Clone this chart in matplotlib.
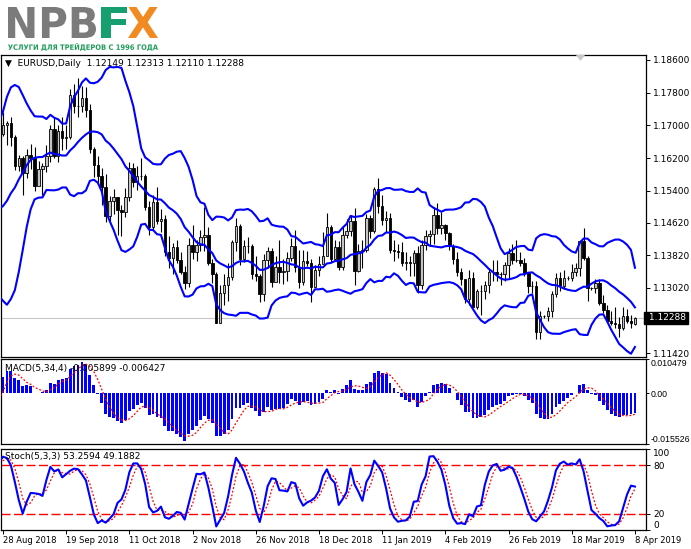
import numpy as np
import pandas as pd
import matplotlib
matplotlib.use("Agg")
import matplotlib.pyplot as plt
import matplotlib.transforms as mtransforms
from matplotlib.textpath import TextPath
from matplotlib.patches import PathPatch, Polygon
from matplotlib.font_manager import FontProperties

# EURUSD daily closes 3 Jul - 10 Aug 2018, only used to warm up the indicators
pre_close = [1.1657, 1.1658, 1.1690, 1.1745,
             1.1750, 1.1744, 1.1706, 1.1667, 1.1685,
             1.1712, 1.1660, 1.1641, 1.1642, 1.1720,
             1.1690, 1.1685, 1.1730, 1.1643, 1.1657,
             1.1705, 1.1691, 1.1658, 1.1584, 1.1567,
             1.1553, 1.1600, 1.1609, 1.1526, 1.1410]

# daily bars from 13 Aug 2018 to 5 Apr 2019 (Sunday bars 10, 17, 24 Mar)
highs = [1.1433, 1.1434, 1.1349, 1.1396, 1.1445,
         1.1485, 1.1580, 1.1623, 1.1602, 1.1642,
         1.1689, 1.1733, 1.1710, 1.1720, 1.1677,
         1.1628, 1.1625, 1.1642, 1.1654, 1.1646,
         1.1613, 1.1609, 1.1653, 1.1700, 1.1721,
         1.1700, 1.1720, 1.1700, 1.1788, 1.1802,
         1.1815, 1.1797, 1.1795, 1.1753, 1.1648,
         1.1625, 1.1595, 1.1580, 1.1528, 1.1545,
         1.1520, 1.1505, 1.1547, 1.1610, 1.1608,
         1.1600, 1.1621, 1.1581, 1.1514, 1.1530,
         1.1550, 1.1495, 1.1480, 1.1430, 1.1412,
         1.1420, 1.1390, 1.1356, 1.1425, 1.1456,
         1.1420, 1.1445, 1.1500, 1.1450, 1.1372,
         1.1340, 1.1310, 1.1335, 1.1362, 1.1420,
         1.1472, 1.1458, 1.1420, 1.1426, 1.1410,
         1.1380, 1.1336, 1.1386, 1.1402, 1.1400,
         1.1380, 1.1420, 1.1374, 1.1391, 1.1424,
         1.1443, 1.1396, 1.1394, 1.1393, 1.1373,
         1.1358, 1.1380, 1.1440, 1.1486, 1.1455,
         1.1420, 1.1417, 1.1450, 1.1470, 1.1480,
         1.1497, 1.1410, 1.1420,
         1.1483, 1.1480, 1.1550, 1.1570, 1.1530,
         1.1490, 1.1485, 1.1420, 1.1410, 1.1415,
         1.1390, 1.1380, 1.1395, 1.1405, 1.1420,
         1.1445, 1.1445, 1.1500, 1.1510, 1.1488,
         1.1458, 1.1440, 1.1410, 1.1390, 1.1350,
         1.1320, 1.1345, 1.1340, 1.1300, 1.1310,
         1.1320, 1.1350, 1.1370, 1.1370, 1.1340,
         1.1365, 1.1400, 1.1410, 1.1420, 1.1390,
         1.1375, 1.1340, 1.1320, 1.1320, 1.1245,
         1.1236, 1.1255, 1.1295, 1.1338, 1.1340, 1.1345,
         1.1330, 1.1360, 1.1362, 1.1420, 1.1448, 1.1380,
         1.1305, 1.1325, 1.1325, 1.1285, 1.1260, 1.1245,
         1.1255, 1.1230, 1.1255, 1.1250, 1.1235]
lows = [1.1366, 1.1330, 1.1301, 1.1341, 1.1365,
        1.1415, 1.1468, 1.1552, 1.1530, 1.1535,
        1.1608, 1.1675, 1.1653, 1.1650, 1.1590,
        1.1588, 1.1530, 1.1570, 1.1592, 1.1540,
        1.1555, 1.1529, 1.1585, 1.1610, 1.1620,
        1.1611, 1.1640, 1.1643, 1.1667, 1.1730,
        1.1721, 1.1733, 1.1720, 1.1633, 1.1573,
        1.1560, 1.1505, 1.1464, 1.1465, 1.1483,
        1.1432, 1.1430, 1.1475, 1.1515, 1.1548,
        1.1542, 1.1567, 1.1492, 1.1432, 1.1445,
        1.1458, 1.1440, 1.1380, 1.1350, 1.1335,
        1.1363, 1.1336, 1.1300, 1.1305, 1.1374,
        1.1367, 1.1392, 1.1393, 1.1357, 1.1315,
        1.1215, 1.1216, 1.1260, 1.1270, 1.1322,
        1.1392, 1.1357, 1.1366, 1.1388, 1.1323,
        1.1320, 1.1268, 1.1270, 1.1351, 1.1305,
        1.1320, 1.1313, 1.1312, 1.1318, 1.1367,
        1.1340, 1.1302, 1.1310, 1.1355, 1.1268,
        1.1305, 1.1330, 1.1364, 1.1385, 1.1365,
        1.1370, 1.1345, 1.1345, 1.1425, 1.1430,
        1.1309, 1.1340, 1.1350,
        1.1389, 1.1423, 1.1436, 1.1485, 1.1455,
        1.1440, 1.1387, 1.1367, 1.1375, 1.1355,
        1.1345, 1.1330, 1.1330, 1.1290, 1.1300,
        1.1395, 1.1405, 1.1410, 1.1435, 1.1435,
        1.1420, 1.1395, 1.1360, 1.1330, 1.1310,
        1.1265, 1.1260, 1.1255, 1.1250, 1.1235,
        1.1275, 1.1290, 1.1320, 1.1320, 1.1310,
        1.1320, 1.1325, 1.1360, 1.1365, 1.1355,
        1.1330, 1.1290, 1.1290, 1.1176, 1.1177,
        1.1228, 1.1220, 1.1230, 1.1280, 1.1295, 1.1300,
        1.1322, 1.1320, 1.1330, 1.1330, 1.1370, 1.1270,
        1.1296, 1.1290, 1.1260, 1.1240, 1.1215, 1.1212,
        1.1205, 1.1183, 1.1200, 1.1215, 1.1205]
closes = [1.1408, 1.1344, 1.1345, 1.1377, 1.1438,
          1.1478, 1.1571, 1.1597, 1.1537, 1.1623,
          1.1679, 1.1700, 1.1706, 1.1671, 1.1601,
          1.1621, 1.1583, 1.1627, 1.1621, 1.1551,
          1.1594, 1.1601, 1.1624, 1.1690, 1.1626,
          1.1686, 1.1669, 1.1672, 1.1775, 1.1748,
          1.1747, 1.1768, 1.1738, 1.1641, 1.1604,
          1.1577, 1.1548, 1.1478, 1.1514, 1.1524,
          1.1492, 1.1489, 1.1525, 1.1595, 1.1562,
          1.1577, 1.1577, 1.1501, 1.1452, 1.1513,
          1.1465, 1.1470, 1.1389, 1.1375, 1.1402,
          1.1371, 1.1342, 1.1313, 1.1408, 1.1389,
          1.1406, 1.1427, 1.1432, 1.1362, 1.1335,
          1.1217, 1.1289, 1.1309, 1.1328, 1.1415,
          1.1454, 1.1372, 1.1405, 1.1404, 1.1337,
          1.1330, 1.1288, 1.1371, 1.1393, 1.1317,
          1.1352, 1.1342, 1.1343, 1.1376, 1.1405,
          1.1354, 1.1317, 1.1369, 1.1364, 1.1305,
          1.1347, 1.1360, 1.1380, 1.1451, 1.1372,
          1.1403, 1.1353, 1.1431, 1.1442, 1.1467,
          1.1343, 1.1393, 1.1394,
          1.1474, 1.1442, 1.1544, 1.1502, 1.1468,
          1.1473, 1.1394, 1.1393, 1.1390, 1.1363,
          1.1366, 1.1362, 1.1387, 1.1308, 1.1406,
          1.1428, 1.1435, 1.1481, 1.1448, 1.1455,
          1.1436, 1.1404, 1.1374, 1.1340, 1.1325,
          1.1275, 1.1327, 1.1256, 1.1294, 1.1295,
          1.1310, 1.1342, 1.1340, 1.1337, 1.1335,
          1.1359, 1.1388, 1.1370, 1.1370, 1.1363,
          1.1339, 1.1307, 1.1306, 1.1194, 1.1234,
          1.1233, 1.1246, 1.1287, 1.1327, 1.1307, 1.1326,
          1.1327, 1.1340, 1.1350, 1.1418, 1.1375, 1.1302,
          1.1302, 1.1313, 1.1265, 1.1248, 1.1222, 1.1217,
          1.1214, 1.1205, 1.1234, 1.1220, 1.1216]
# last bar 8 Apr 2019: open, high, low, close
last_bar = [1.12149, 1.12313, 1.12110, 1.12288]
n_before = 11  # bars before 28 Aug 2018

tick_labels = ["28 Aug 2018", "19 Sep 2018", "11 Oct 2018", "2 Nov 2018", "26 Nov 2018",
               "18 Dec 2018", "11 Jan 2019", "4 Feb 2019", "26 Feb 2019", "18 Mar 2019",
               "8 Apr 2019"]
price_ticks = [1.18600, 1.17800, 1.17000, 1.16200, 1.15400, 1.14620, 1.13820, 1.13020, 1.11420]
macd_ticks = [0.010479, 0.0, -0.015526]
macd_last = (-0.005899, -0.006427)
stoch_last = (53.2594, 49.1882)

# ---- assemble series and indicators ----
h = pd.Series(highs + [last_bar[1]])
l = pd.Series(lows + [last_bar[2]])
c = pd.Series(closes + [last_bar[3]])
o = pd.Series([pre_close[-1]] + closes[:-1] + [closes[-1]])
o.iloc[-1] = last_bar[0]
x = np.arange(len(c)) - n_before

c_all = pd.Series(pre_close + c.tolist())
x_all = np.arange(len(c_all)) - n_before - len(pre_close)

mid = c_all.rolling(14).mean()
sd = c_all.rolling(14).std(ddof=0)
upper, lower = mid + 2 * sd, mid - 2 * sd

macd = c_all.ewm(span=5, adjust=False).mean() - c_all.ewm(span=34, adjust=False).mean()
signal = macd.rolling(4).mean()

hh = h.rolling(5).max()
ll = l.rolling(5).min()
k_line = 100 * (c - ll).rolling(3).sum() / (hh - ll).rolling(3).sum()
d_line = k_line.rolling(3).mean()

# ---- figure ----
W, H = 691, 549
plt.rcParams["font.family"] = ["DejaVu Sans"]
plt.rcParams["axes.unicode_minus"] = False
fig = plt.figure(figsize=(W / 100, H / 100), dpi=100)


def rect(top, bottom):
    return [1 / W, 1 - bottom / H, 645 / W, (bottom - top) / H]


ax = fig.add_axes(rect(55, 357))
axm = fig.add_axes(rect(359, 444), sharex=ax)
axs = fig.add_axes(rect(449, 530), sharex=ax)
xlim = (-0.5, 162.8)

for a in (ax, axm, axs):
    a.set_xlim(*xlim)
    for sp in a.spines.values():
        sp.set_linewidth(0.9)
        sp.set_color("black")
    a.yaxis.tick_right()
    a.tick_params(axis="y", length=3, width=0.7, labelsize=6.5, pad=2, colors="black")
    a.tick_params(axis="x", bottom=False, labelbottom=False)

# candles
up = c >= o
body_lo = np.minimum(o, c)
body_h = np.abs(c - o)
ax.vlines(x, l, h, color="black", lw=0.8, zorder=2)
ax.bar(x[up], body_h[up], bottom=body_lo[up], width=0.62, facecolor="#c4c4c4",
       edgecolor="black", linewidth=0.6, zorder=3)
ax.bar(x[~up], body_h[~up], bottom=body_lo[~up], width=0.62, facecolor="black",
       edgecolor="black", linewidth=0.6, zorder=3)

# bollinger bands
for band in (upper, mid, lower):
    ax.plot(x_all, band, color="#0000ff", lw=1.5, zorder=4)

ax.axhline(last_bar[3], color="#c8c8c8", lw=0.8, zorder=1)
ax.set_ylim(1.11329, 1.18722)
ax.set_yticks(price_ticks)
ax.set_yticklabels([f"{v:.5f}" for v in price_ticks])
ax.text(1.0, last_bar[3], " " + f"{last_bar[3]:.5f}", transform=ax.get_yaxis_transform(),
        ha="left", va="center", color="white", fontsize=6.5,
        bbox=dict(boxstyle="square,pad=0.2", fc="black", ec="black"))

# MACD
axm.bar(x_all, macd, width=0.72, color="#0000ff", zorder=2)
axm.plot(x_all, signal, color="#ff0000", lw=0.9, ls=(0, (1.5, 1.5)), zorder=3)
axm.set_ylim(macd_ticks[2], macd_ticks[0])
axm.set_yticks(macd_ticks)
axm.set_yticklabels(["0.010479", "0.00", "-0.015526"])
axm.tick_params(axis="y", length=2, pad=1, labelsize=6.3)
lbl = axm.get_yticklabels()
for t in lbl:
    t.set_family("Liberation Sans")
lbl[0].set_va("top")
lbl[2].set_va("bottom")

# stochastic
axs.axhline(80, color="#ff0000", lw=1.0, dashes=(6.5, 2.5), zorder=1)
axs.axhline(20, color="#ff0000", lw=1.0, dashes=(6.5, 2.5), zorder=1)
axs.plot(x, k_line, color="#0000ff", lw=1.5, zorder=3)
axs.plot(x, d_line, color="#ff0000", lw=0.9, ls=(0, (1.5, 1.5)), zorder=2)
axs.set_ylim(0, 100)
axs.set_yticks([100, 80, 20, 0])
axs.set_yticklabels(["100", "80", "20", "0"])
lbl = axs.get_yticklabels()
lbl[0].set_va("top")
lbl[3].set_va("bottom")

# date axis
axs.set_xticks(np.arange(0, 161, 16))
axs.set_xticklabels(tick_labels)
axs.tick_params(axis="x", bottom=True, labelbottom=True, length=3, width=0.7,
                labelsize=6, pad=1.5)
for t in axs.get_xticklabels():
    t.set_ha("left")

# panel captions
fs = 6.5
fig.text(5 / W, 1 - 63 / H, "\u25bc  EURUSD,Daily  " + " ".join(f"{v:.5f}" for v in last_bar),
         fontsize=fs, va="center", ha="left")
axm.text(4 / 645, 1 - 9 / 85, "MACD(5,34,4) %.6f %.6f" % macd_last, transform=axm.transAxes,
         fontsize=fs, va="center", ha="left", zorder=6)
axs.text(4 / 645, 1 - 7 / 81, "Stoch(5,3,3) %.4f %.4f" % stoch_last, transform=axs.transAxes,
         fontsize=fs, va="center", ha="left", zorder=6)

# chart shift marker
fig.add_artist(Polygon([[576, H - 55], [585, H - 55], [580.5, H - 61]], closed=True,
                       fc="#c8c8c8", ec="none", transform=mtransforms.IdentityTransform()))


# logo, each word fitted into its pixel box
def logo_word(s, x0, x1, y0, y1, color):
    tp = TextPath((0, 0), s, size=20, prop=FontProperties(family="DejaVu Sans", weight="bold"))
    bb = tp.get_extents()
    tr = (mtransforms.Affine2D().translate(-bb.x0, -bb.y0)
          .scale((x1 - x0) / bb.width, (y1 - y0) / bb.height).translate(x0, H - y1))
    fig.add_artist(PathPatch(tr.transform_path(tp), fc=color, ec="none",
                             transform=mtransforms.IdentityTransform()))


logo_word("NPB", 8, 96, 7, 38, "#7b7b7b")
logo_word("F", 101, 127, 7, 38, "#16a070")
logo_word("X", 128, 158, 7, 38, "#f28a22")
logo_word("УСЛУГИ ДЛЯ ТРЕЙДЕРОВ С 1996 ГОДА", 8, 158, 43, 51, "#1f9c5a")

fig.savefig("out.png", dpi=100)
